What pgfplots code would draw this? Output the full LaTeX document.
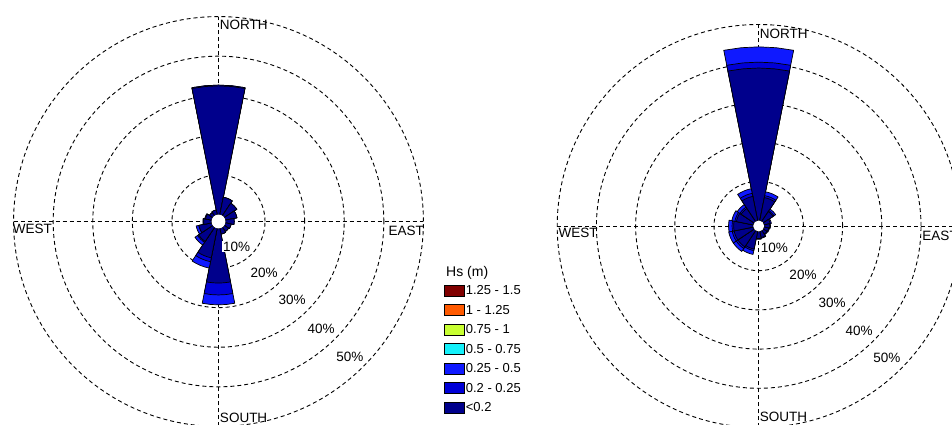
\documentclass[border=0pt]{standalone}
\usepackage{pgfplots}
\pgfplotsset{compat=1.18}
\usepackage{pgfplotstable}
\usepackage{fontspec}
\setmainfont{Liberation Sans}

\definecolor{cA}{RGB}{0,0,140}
\definecolor{cB}{RGB}{0,0,215}
\definecolor{cC}{RGB}{15,25,255}
\definecolor{cD}{RGB}{20,240,250}
\definecolor{cE}{RGB}{200,255,50}
\definecolor{cF}{RGB}{255,90,0}
\definecolor{cG}{RGB}{128,0,0}

% percentage of time per direction and Hs class: a = <0.2, b = 0.2-0.25, c = 0.25-0.5
\pgfplotstableread{
dir   a    b    c
0     32.5 0.2  0
22.5  4.5  0    0
45    3.8  0    0
67.5  3.0  0    0
90    2.2  0    0
112.5 1.5  0    0
135   1.3  0    0
157.5 1.5  0    0
180   13.8 3.0  2.5
202.5 7.6  1.0  1.65
225   4.3  0.3  0.8
247.5 3.3  0    0.7
270   2.0  0    0.2
292.5 1.6  0    0.2
315   1.0  0    0
337.5 1.2  0    0
}\leftrose

\pgfplotstableread{
dir   a    b    c
0     38.9 1.5  3.9
22.5  6.0  0.5  1.0
45    3.0  0.3  0.5
67.5  1.6  0    0.3
90    1.4  0    0.2
112.5 1.2  0    0.2
135   1.1  0    0.2
157.5 1.6  0    0.2
180   1.8  0    0.2
202.5 4.6  0.4  1.0
225   5.0  0.5  0.9
247.5 5.0  0.5  0.9
270   5.0  0.4  0.9
292.5 4.4  0.4  0.8
315   4.0  0.4  0.8
337.5 6.3  0.8  1.2
}\rightrose

\newcommand\petal[3]{%
  \pgfmathsetmacro\pA{90-#1}%
  \pgfmathsetmacro\pL{\pA+11.25}%
  \pgfmathsetmacro\pML{\pA+5.625}%
  \pgfmathsetmacro\pMR{\pA-5.625}%
  \pgfmathsetmacro\pR{\pA-11.25}%
  \edef\tmp{\noexpand\addplot[data cs=polar, fill=#3, draw=black, line width=0.7pt, line join=round] coordinates {(\pL,\hole) (\pL,#2) (\pML,#2) (\pA,#2) (\pMR,#2) (\pR,#2) (\pR,\hole) (\pL,\hole)};}%
  \tmp}

\newcommand\drawrose[1]{%
  \pgfplotstablegetrowsof{#1}\pgfmathtruncatemacro\nrows{\pgfplotsretval-1}%
  \foreach \k in {0,...,\nrows}{%
    \pgfplotstablegetelem{\k}{dir}\of#1\let\dd\pgfplotsretval
    \pgfplotstablegetelem{\k}{a}\of#1\let\va\pgfplotsretval
    \pgfplotstablegetelem{\k}{b}\of#1\let\vb\pgfplotsretval
    \pgfplotstablegetelem{\k}{c}\of#1\let\vc\pgfplotsretval
    \pgfmathsetmacro\rc{\hole+\va+\vb+\vc}%
    \pgfmathsetmacro\rb{\hole+\va+\vb}%
    \pgfmathsetmacro\ra{\hole+\va}%
    \petal{\dd}{\rc}{cC}%
    \petal{\dd}{\rb}{cB}%
    \petal{\dd}{\ra}{cA}%
  }}

\tikzset{gridl/.style={black, line width=0.9pt, dash pattern=on 4pt off 3pt},
  lbl/.style={font=\fontsize{13.5}{15}\selectfont, inner sep=0.5pt},
  pct/.style={font=\fontsize{13.5}{15}\selectfont, fill=white, inner sep=1pt}}
\newcommand\roseframe{%
  \pgfplotsinvokeforeach{10,20,30,40,50}{\draw[gridl] (axis cs:0,0) circle[radius=\hole+##1];}
  \draw[gridl] (axis cs:-\hole-50,0) -- (axis cs:\hole+50,0);
  \draw[gridl] (axis cs:0,-\hole-50) -- (axis cs:0,\hole+50);
}

\pgfplotsset{roseaxis/.style={hide axis, clip=false, xmin=-52, xmax=52, ymin=-52, ymax=52, anchor=center}}

\begin{document}
\begin{tikzpicture}
\useasboundingbox (0pt,0pt) rectangle (952pt,425pt);

% ---------------- left rose
\def\hole{1.75}
\begin{axis}[roseaxis, at={(218.5pt,203.5pt)}, x=3.96pt, y=3.96pt,
  legend style={at={(1.0476,0.3482)}, anchor=north west, draw=none, fill=none,
    inner sep=0pt, row sep=5.5pt, font=\fontsize{13}{15}\selectfont,
    nodes={inner sep=1pt, text height=9.5pt, text depth=2.5pt}},
  legend cell align=left,
  legend image code/.code={\draw[#1, draw=black, line width=0.6pt] (0pt,-5pt) rectangle (20pt,6pt);}]
\addlegendimage{fill=cG}
\addlegendimage{fill=cF}
\addlegendimage{fill=cE}
\addlegendimage{fill=cD}
\addlegendimage{fill=cC}
\addlegendimage{fill=cB}
\addlegendimage{fill=cA}
\legend{1.25 - 1.5, 1 - 1.25, 0.75 - 1, 0.5 - 0.75, 0.25 - 0.5, 0.2 - 0.25, <0.2}
\roseframe
\drawrose{\leftrose}
\fill[white] (axis cs:0,0) circle[radius=1.75];
\node[lbl, anchor=west] at (axis cs:0.2,49.6) {NORTH};
\node[lbl, anchor=west] at (axis cs:0.2,-49.6) {SOUTH};
\node[lbl, anchor=north west] at (axis cs:-52.1,-0.4) {WEST};
\node[lbl, anchor=north west] at (axis cs:42.8,-0.9) {EAST};
\node[pct] at (axis cs:4.55,-6.3) {10\%};
\node[pct] at (axis cs:11.5,-12.9) {20\%};
\node[pct] at (axis cs:18.6,-19.8) {30\%};
\node[pct] at (axis cs:25.9,-27.1) {40\%};
\node[pct] at (axis cs:33.2,-34.2) {50\%};
\end{axis}

% ---------------- right rose
\def\hole{1.4}
\begin{axis}[roseaxis, at={(758.7pt,199pt)}, x=3.92pt, y=3.92pt]
\roseframe
\drawrose{\rightrose}
\fill[white] (axis cs:0,0) circle[radius=1.4];
\node[lbl, anchor=west] at (axis cs:0.1,49.0) {NORTH};
\node[lbl, anchor=west] at (axis cs:0.1,-48.7) {SOUTH};
\node[lbl, anchor=north west] at (axis cs:-51.2,-0.4) {WEST};
\node[lbl, anchor=north west] at (axis cs:41.6,-1.2) {EAST};
\node[pct] at (axis cs:4.0,-5.6) {10\%};
\node[pct] at (axis cs:11.3,-12.4) {20\%};
\node[pct] at (axis cs:18.7,-19.6) {30\%};
\node[pct] at (axis cs:25.6,-26.7) {40\%};
\node[pct] at (axis cs:32.7,-33.6) {50\%};
\end{axis}

\node[anchor=west, font=\fontsize{14}{16}\selectfont, inner sep=0pt] at (446pt,152pt) {Hs (m)};
\end{tikzpicture}
\end{document}
